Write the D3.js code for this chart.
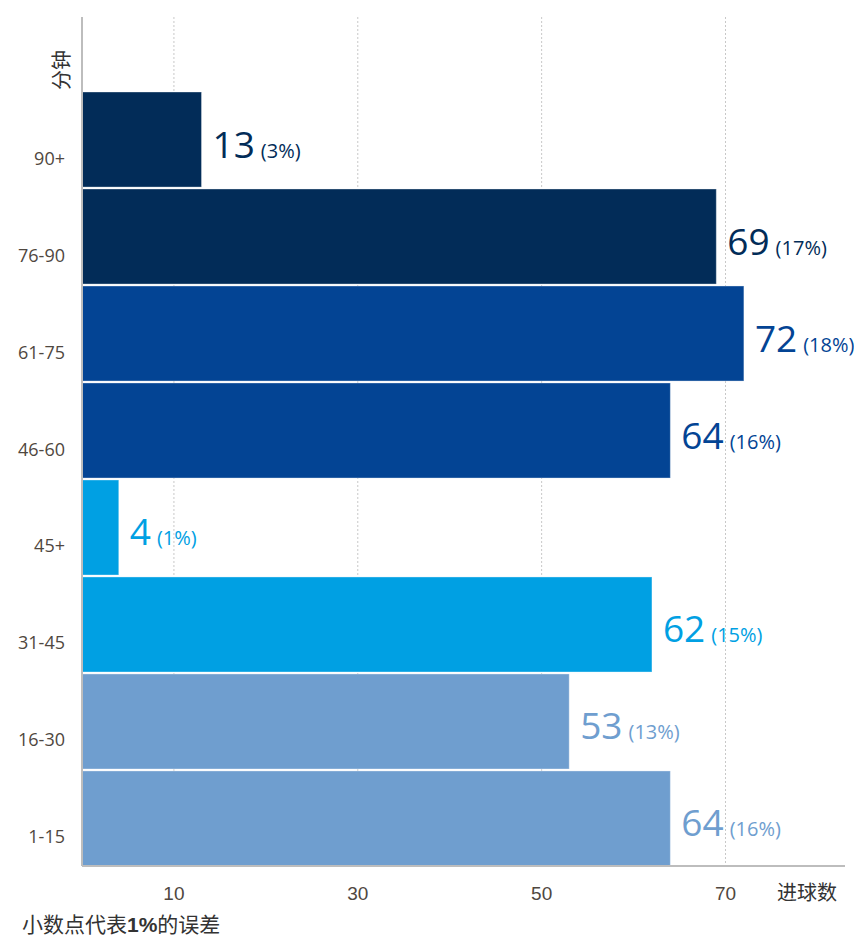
<!DOCTYPE html>
<html>
<head>
<meta charset="utf-8">
<script src="https://cdn.jsdelivr.net/npm/d3@7"></script>
<style>
  body { margin: 0; background: #fff; }
  svg { display: block; }
</style>
</head>
<body>
<svg id="chart" width="854" height="939"></svg>
<script>
const periods = ["90+", "76-90", "61-75", "46-60", "45+", "31-45", "16-30", "1-15"];
const goals = [13, 69, 72, 64, 4, 62, 53, 64];
const shares = [3, 17, 18, 16, 1, 15, 13, 16];
const ticks = [10, 30, 50, 70];
const colors = ["#022c58", "#022c58", "#034494", "#034494", "#00a0e3", "#00a0e3", "#6f9ecf", "#6f9ecf"];

const data = periods.map((p, i) => ({ period: p, goals: goals[i], share: shares[i], color: colors[i] }));

const svg = d3.select("#chart");
const plotLeft = 82, plotRight = 845, plotTop = 17, plotBottom = 866;

const x = d3.scaleLinear().domain([0, 83]).range([plotLeft, plotRight]);
const y = d3.scaleBand().domain(periods).range([92, plotBottom]).paddingInner(0.02).paddingOuter(0);

const tickFont = "'Liberation Sans Narrow', 'Liberation Sans', sans-serif";
const labelFont = "'Open Sans', 'Noto Sans', sans-serif";
const cjk = "'Noto Sans CJK SC', sans-serif";

// dotted grid
svg.append("g")
  .selectAll("line")
  .data(ticks)
  .join("line")
  .attr("x1", d => x(d))
  .attr("x2", d => x(d))
  .attr("y1", plotTop)
  .attr("y2", plotBottom)
  .attr("stroke", "#c8c8c8")
  .attr("stroke-width", 1)
  .attr("stroke-dasharray", "2,2");

// bars
svg.append("g")
  .selectAll("rect")
  .data(data)
  .join("rect")
  .attr("x", x(0))
  .attr("y", d => y(d.period))
  .attr("width", d => x(d.goals) - x(0))
  .attr("height", y.bandwidth())
  .attr("fill", d => d.color)
  .attr("stroke", "#fff")
  .attr("stroke-opacity", 0.35)
  .attr("stroke-width", 1);

// value labels
const vl = svg.append("g")
  .selectAll("text")
  .data(data)
  .join("text")
  .attr("x", d => x(d.goals) + 11)
  .attr("y", d => y(d.period) + y.bandwidth() / 2 + 18)
  .attr("fill", d => d.color)
  .attr("font-family", labelFont);
vl.append("tspan")
  .attr("font-size", 37)
  .text(d => d.goals);
vl.append("tspan")
  .attr("font-size", 20)
  .attr("dx", 6)
  .text(d => `(${d.share}%)`);

// axes lines
svg.append("line")
  .attr("x1", plotLeft).attr("x2", plotLeft)
  .attr("y1", plotTop).attr("y2", plotBottom)
  .attr("stroke", "#bdbdbd").attr("stroke-width", 2);
svg.append("line")
  .attr("x1", plotLeft).attr("x2", plotRight)
  .attr("y1", plotBottom).attr("y2", plotBottom)
  .attr("stroke", "#bdbdbd").attr("stroke-width", 2);

// y category labels
svg.append("g")
  .selectAll("text")
  .data(periods)
  .join("text")
  .attr("x", 65)
  .attr("y", d => y(d) + y.bandwidth() / 2 + 25)
  .attr("text-anchor", "end")
  .attr("font-family", labelFont)
  .attr("font-size", 18)
  .attr("fill", "#4f4740")
  .text(d => d);

// x tick labels
svg.append("g")
  .selectAll("text")
  .data(ticks)
  .join("text")
  .attr("x", d => x(d))
  .attr("y", 900)
  .attr("text-anchor", "middle")
  .attr("font-family", tickFont)
  .attr("font-size", 19)
  .attr("fill", "#4f4740")
  .text(d => d);

svg.append("text")
  .attr("x", 777)
  .attr("y", 900)
  .attr("font-family", cjk)
  .attr("font-size", 20)
  .attr("fill", "#333")
  .text("进球数");

svg.append("text")
  .attr("transform", "translate(69,70) rotate(-90)")
  .attr("text-anchor", "middle")
  .attr("font-family", cjk)
  .attr("font-size", 20)
  .attr("fill", "#333")
  .text("分钟");

const note = svg.append("text")
  .attr("x", 22)
  .attr("y", 932)
  .attr("font-family", cjk)
  .attr("font-size", 21)
  .attr("fill", "#333");
note.append("tspan").text("小数点代表");
note.append("tspan").attr("font-weight", "bold").attr("font-family", "'Liberation Sans', sans-serif").text("1%");
note.append("tspan").text("的误差");
</script>
</body>
</html>
